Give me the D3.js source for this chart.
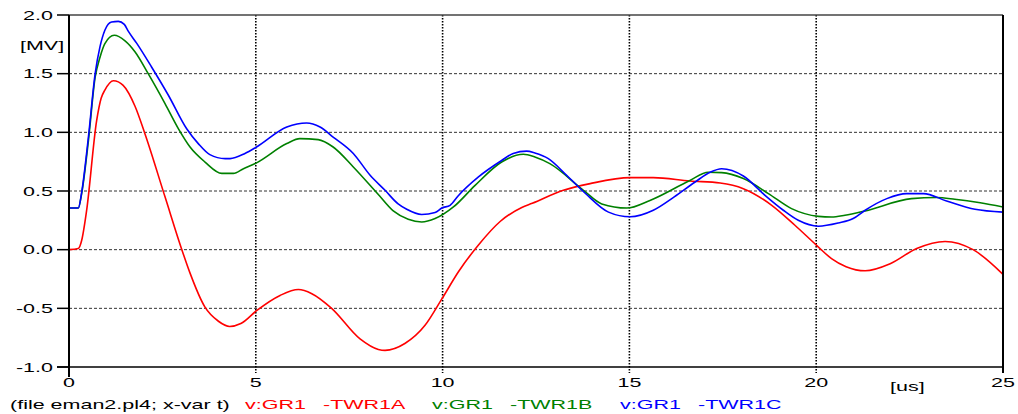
<!DOCTYPE html>
<html>
<head>
<meta charset="utf-8">
<script src="https://cdn.jsdelivr.net/npm/d3@7"></script>
<style>
  body { margin: 0; background: #fff; }
  text { font-family: "Liberation Sans", Arial, sans-serif; font-size: 12.5px; }
</style>
</head>
<body>
<div id="chart"></div>
<script>
// values
const tRed = [0, 0.25, 0.34, 0.47, 0.74, 0.86, 0.96, 1.19, 1.45, 1.77, 2.03, 2.57, 3.02, 3.24, 3.64, 4.0, 4.3, 4.6, 5.02, 5.65, 6.14, 6.5, 7.03, 7.79, 8.28, 8.46, 8.99, 9.53, 9.98, 10.42, 10.96, 11.54, 12.12, 12.4, 13.23, 13.95, 15.02, 15.64, 16.62, 17.43, 18.05, 18.81, 19.43, 20.01, 20.41, 20.8, 21.31, 21.98, 22.69, 23.45, 24.2, 25];
const vRed = [0, 0.01, 0.08, 0.33, 1.10, 1.29, 1.36, 1.44, 1.40, 1.22, 0.99, 0.45, 0.0, -0.20, -0.49, -0.61, -0.655, -0.63, -0.52, -0.39, -0.34, -0.375, -0.50, -0.76, -0.85, -0.858, -0.80, -0.645, -0.42, -0.19, 0.04, 0.24, 0.36, 0.395, 0.506, 0.563, 0.614, 0.614, 0.585, 0.568, 0.52, 0.378, 0.208, 0.037, -0.076, -0.145, -0.18, -0.12, 0.01, 0.07, 0.0, -0.21];

const tGreen = [0, 0.25, 0.34, 0.52, 0.70, 0.83, 0.96, 1.21, 1.50, 1.77, 2.12, 2.57, 2.93, 3.24, 3.64, 4.09, 4.40, 4.67, 5.02, 5.83, 6.18, 6.67, 7.07, 7.61, 8.28, 8.68, 9.08, 9.44, 9.80, 10.29, 10.87, 11.58, 12.16, 12.47, 12.87, 13.77, 14.26, 14.93, 15.55, 16.62, 17.11, 17.47, 18.05, 18.72, 19.34, 20.06, 20.41, 20.77, 21.31, 22.55, 23.22, 23.71, 24.39, 25];
const vGreen = [0.355, 0.355, 0.48, 0.93, 1.47, 1.64, 1.756, 1.827, 1.78, 1.685, 1.50, 1.245, 1.03, 0.875, 0.747, 0.65, 0.65, 0.69, 0.74, 0.904, 0.946, 0.938, 0.875, 0.705, 0.47, 0.33, 0.259, 0.236, 0.265, 0.364, 0.548, 0.747, 0.813, 0.79, 0.733, 0.506, 0.39, 0.355, 0.42, 0.59, 0.66, 0.657, 0.606, 0.478, 0.35, 0.284, 0.278, 0.293, 0.33, 0.435, 0.444, 0.43, 0.40, 0.364];

const tBlue = [0, 0.25, 0.34, 0.52, 0.70, 0.83, 0.96, 1.14, 1.32, 1.48, 1.59, 1.81, 2.21, 2.66, 3.15, 3.46, 3.77, 4.18, 4.31, 4.71, 5.02, 5.83, 6.36, 6.72, 7.07, 7.61, 8.06, 8.46, 8.81, 9.04, 9.44, 9.80, 9.98, 10.2, 10.42, 10.96, 11.58, 11.89, 12.25, 12.47, 12.83, 13.32, 13.81, 14.44, 15.02, 15.64, 16.2, 16.76, 17.16, 17.47, 18.05, 18.63, 19.12, 19.52, 20.06, 20.59, 20.99, 21.31, 21.89, 22.42, 22.87, 23.49, 24.25, 25];
const vBlue = [0.355, 0.355, 0.49, 0.96, 1.50, 1.73, 1.87, 1.94, 1.946, 1.92, 1.86, 1.76, 1.557, 1.316, 1.03, 0.904, 0.81, 0.776, 0.776, 0.82, 0.875, 1.045, 1.08, 1.045, 0.96, 0.82, 0.634, 0.506, 0.39, 0.344, 0.30, 0.316, 0.355, 0.378, 0.46, 0.62, 0.76, 0.82, 0.84, 0.824, 0.776, 0.634, 0.483, 0.32, 0.28, 0.336, 0.45, 0.577, 0.66, 0.69, 0.628, 0.463, 0.336, 0.25, 0.20, 0.227, 0.265, 0.336, 0.435, 0.478, 0.478, 0.415, 0.344, 0.32];

const xTicks = [0, 5, 10, 15, 20, 25];
const yTicks = [2.0, 1.5, 1.0, 0.5, 0.0, -0.5, -1.0];
const legendTexts = ["(file eman2.pl4; x-var t)", "v:GR1", "-TWR1A", "v:GR1", "-TWR1B", "v:GR1", "-TWR1C"];
const legendColors = ["#000", "#ff0000", "#ff0000", "#008000", "#008000", "#0000ff", "#0000ff"];

const W = 1018, H = 414;
const L = 69, R = 1003, T = 15, B = 367;
const SX = 1.72; // text in the picture is stretched sideways

const svg = d3.select("#chart").append("svg")
  .attr("width", W).attr("height", H);

const x = d3.scaleLinear().domain([0, 25]).range([L, R]);
const y = d3.scaleLinear().domain([-1, 2]).range([B, T]);

let label = (px, py, str, anchor, color) => {
  svg.append("g")
    .attr("transform", `translate(${px},${py}) scale(${SX},1)`)
    .append("text")
    .attr("text-anchor", anchor)
    .attr("dy", "0.36em")
    .attr("fill", color || "#000")
    .text(str);
};

// horizontal grid
svg.selectAll(".hgrid")
  .data(yTicks.filter(d => d > -1 && d < 2)).enter()
  .append("line")
  .attr("x1", L).attr("x2", R)
  .attr("y1", d => y(d)).attr("y2", d => y(d))
  .attr("stroke", "#333").attr("stroke-width", 1)
  .attr("stroke-dasharray", "3,2");

// vertical grid (dotted, runs a little below the axis)
svg.selectAll(".vgrid")
  .data(xTicks.filter(d => d > 0 && d < 25)).enter()
  .append("line")
  .attr("x1", d => x(d)).attr("x2", d => x(d))
  .attr("y1", T).attr("y2", B + 6)
  .attr("stroke", "#000").attr("stroke-width", 1.6)
  .attr("stroke-dasharray", "1.6,1.4");

// top border
svg.append("line").attr("x1", L).attr("x2", R).attr("y1", T).attr("y2", T)
  .attr("stroke", "#444").attr("stroke-width", 1.5);

// series
const clip = svg.append("clipPath").attr("id", "clip")
  .append("rect").attr("x", L).attr("y", T - 2).attr("width", R - L).attr("height", B - T + 4);

const line = d3.line()
  .x(d => x(d[0])).y(d => y(d[1]))
  .curve(d3.curveMonotoneX);

const series = [
  { t: tRed, v: vRed, color: "#ff0000" },
  { t: tGreen, v: vGreen, color: "#008000" },
  { t: tBlue, v: vBlue, color: "#0000ff" }
];
series.forEach(s => {
  svg.append("path")
    .attr("clip-path", "url(#clip)")
    .attr("d", line(s.t.map((t, i) => [t, s.v[i]])))
    .attr("fill", "none")
    .attr("stroke", s.color)
    .attr("stroke-width", 1.6);
});

// axes
svg.append("line").attr("x1", L).attr("x2", L).attr("y1", T).attr("y2", B + 10)
  .attr("stroke", "#000").attr("stroke-width", 2);
svg.append("line").attr("x1", L - 12).attr("x2", R).attr("y1", B).attr("y2", B)
  .attr("stroke", "#000").attr("stroke-width", 1.5);
svg.append("line").attr("x1", R).attr("x2", R).attr("y1", T).attr("y2", B + 6)
  .attr("stroke", "#000").attr("stroke-width", 2);

// y ticks and labels
svg.selectAll(".ytick")
  .data(yTicks).enter()
  .append("line")
  .attr("x1", L - 12).attr("x2", L)
  .attr("y1", d => y(d)).attr("y2", d => y(d))
  .attr("stroke", "#000").attr("stroke-width", 1.5);
yTicks.forEach(d => label(53, y(d), d.toFixed(1), "end"));

// x labels
xTicks.forEach(d => label(x(d), 382, String(d), "middle"));

// units
label(20, 45, "[MV]", "start");
label(890, 386, "[us]", "start");

// legend line
const legendX = [10, 245, 323, 432, 510, 620, 698];
legendTexts.forEach((s, i) => label(legendX[i], 404, s, "start", legendColors[i]));
</script>
</body>
</html>
